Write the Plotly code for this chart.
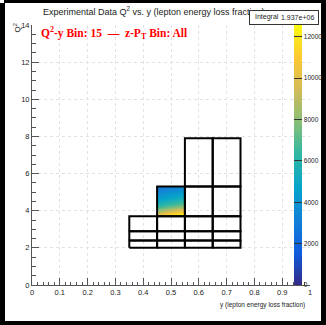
import plotly.graph_objects as go

# ---------------- data ----------------
# Q2-y bin grid (bin outlines)
q2_row_edges = [[2.0, 2.4], [2.4, 2.9], [2.9, 3.7], [3.7, 5.3], [5.3, 7.9]]
y_row_edges = [
    [0.35, 0.45, 0.55, 0.65, 0.75],
    [0.35, 0.45, 0.55, 0.65, 0.75],
    [0.35, 0.45, 0.55, 0.65, 0.75],
    [0.45, 0.55, 0.65, 0.75],
    [0.55, 0.65, 0.75],
]

hist_y_edges = [0.45, 0.47, 0.49, 0.51, 0.53, 0.55]
hist_q2_edges = [3.7, 3.9, 4.1, 4.3, 4.5, 4.7, 4.9, 5.1, 5.3]
hist_counts = [
    [10500, 11200, 11800, 12300, 12500],
    [8200, 8800, 9300, 9800, 10200],
    [6800, 7200, 7600, 8000, 8300],
    [5700, 6000, 6300, 6600, 6900],
    [4800, 5100, 5300, 5600, 5800],
    [4100, 4300, 4500, 4700, 4900],
    [3500, 3700, 3900, 4000, 4200],
    [3000, 3200, 3300, 3500, 3600],
]
z_max = 12570
cbar_ticks = [0, 2000, 4000, 6000, 8000, 10000, 12000]
x_ticks = [0, 0.1, 0.2, 0.3, 0.4, 0.5, 0.6, 0.7, 0.8, 0.9, 1]
y_ticks = [0, 2, 4, 6, 8, 10, 12, 14]
integral_text = "1.937e+06"

# ---------------- layout geometry ----------------
W, H = 326, 325
L, R, T, B = 32, 16, 25, 40
PW, PH = W - L - R, H - T - B


def px(xp):
    return (xp - L) / PW


def py(yp):
    return (H - B - yp) / PH


bird = [
    [0.000, "rgb(53,42,135)"],
    [0.125, "rgb(15,92,221)"],
    [0.250, "rgb(20,129,214)"],
    [0.375, "rgb(6,164,202)"],
    [0.500, "rgb(46,183,164)"],
    [0.625, "rgb(135,191,119)"],
    [0.750, "rgb(209,187,89)"],
    [0.875, "rgb(254,200,50)"],
    [1.000, "rgb(249,251,14)"],
]

sans = "Liberation Sans, Arial, sans-serif"

fig = go.Figure()

fig.add_trace(go.Heatmap(
    x=hist_y_edges, y=hist_q2_edges, z=hist_counts,
    zmin=0, zmax=z_max, colorscale=bird, zsmooth="best",
    colorbar=dict(
        x=px(294), xanchor="left", y=0, yanchor="bottom",
        len=1, lenmode="fraction", thickness=8, thicknessmode="pixels",
        outlinewidth=0, ticks="inside", ticklen=8, tickcolor="#333",
        tickvals=cbar_ticks, ticktext=[str(v) for v in cbar_ticks],
        tickfont=dict(family=sans, size=6.5, color="#222"),
        xpad=0, ypad=0,
    ),
    hoverinfo="skip",
))

# bin outlines
for (q_lo, q_hi), ys in zip(q2_row_edges, y_row_edges):
    for i in range(len(ys) - 1):
        fig.add_trace(go.Scatter(
            x=[ys[i], ys[i + 1], ys[i + 1], ys[i], ys[i]],
            y=[q_lo, q_lo, q_hi, q_hi, q_lo],
            mode="lines", line=dict(color="black", width=2),
            showlegend=False, hoverinfo="skip",
        ))

axis_common = dict(
    showline=True, linecolor="#555", linewidth=1, mirror=False,
    ticks="inside", tickcolor="#555", showgrid=True,
    gridcolor="#e2e2e2", griddash="dot", gridwidth=1, zeroline=False,
    tickfont=dict(family=sans, size=7.5, color="#222"),
)

fig.update_layout(
    width=W, height=H,
    margin=dict(l=L, r=R, t=T, b=B, pad=0, autoexpand=False),
    paper_bgcolor="white", plot_bgcolor="white",
    showlegend=False,
    xaxis=dict(range=[0, 1], tickvals=x_ticks, ticklen=7,
               minor=dict(ticks="inside", dtick=0.02, ticklen=3.5, tickcolor="#555", showgrid=False),
               **axis_common),
    yaxis=dict(range=[0, 14], tickvals=y_ticks, ticklen=7,
               minor=dict(ticks="inside", dtick=0.5, ticklen=3.5, tickcolor="#555", showgrid=False),
               **axis_common),
)

ann = []
# title
ann.append(dict(
    xref="paper", yref="paper", x=px(41), y=py(11), xanchor="left", yanchor="middle",
    text="Experimental Data Q<sup>2</sup> vs. y (lepton energy loss fraction)",
    showarrow=False, font=dict(family=sans, size=9, color="#222"),
))
# stat box frame (white, covers the title end)
ann.append(dict(
    xref="paper", yref="paper", x=px(249), y=py(10), xanchor="left", yanchor="top",
    text=" ", width=68, height=13,
    bgcolor="white", bordercolor="#333", borderwidth=1, borderpad=0,
    showarrow=False, font=dict(family=sans, size=7, color="#222"),
))
ann.append(dict(
    xref="paper", yref="paper", x=px(253), y=py(17), xanchor="left", yanchor="middle",
    text="Integral", showarrow=False, font=dict(family=sans, size=7, color="#222"),
))
ann.append(dict(
    xref="paper", yref="paper", x=px(316), y=py(17), xanchor="right", yanchor="middle",
    text=integral_text, showarrow=False, font=dict(family=sans, size=7, color="#222"),
))
# red label
ann.append(dict(
    xref="paper", yref="paper", x=px(39), y=py(33), xanchor="left", yanchor="middle",
    text="<b>Q<sup>2</sup>-y Bin: 15  \u2014  z-P<sub>T</sub> Bin: All</b>",
    showarrow=False, font=dict(family="Liberation Serif, Times New Roman, serif", size=11.5, color="#ff0000"),
))
# y axis title
ann.append(dict(
    xref="paper", yref="paper", x=px(16), y=py(22), xanchor="center", yanchor="top",
    text="Q<sup>2</sup>", textangle=-90,
    showarrow=False, font=dict(family=sans, size=8, color="#222"),
))
# x axis title
ann.append(dict(
    xref="paper", yref="paper", x=px(307), y=py(305), xanchor="right", yanchor="middle",
    text="y (lepton energy loss fraction)",
    showarrow=False, font=dict(family=sans, size=6.5, color="#222"),
))
fig.update_layout(annotations=ann)

# outer black canvas border
shapes = [
    dict(x0=px(4), x1=px(323), y0=py(0), y1=py(3)),
    dict(x0=px(0), x1=px(5), y0=py(3), y1=py(325)),
    dict(x0=px(0), x1=px(326), y0=py(321), y1=py(325)),
    dict(x0=px(321), x1=px(326), y0=py(0), y1=py(325)),
]
for s in shapes:
    s.update(type="rect", xref="paper", yref="paper", fillcolor="black",
             line=dict(width=0), layer="above")
fig.update_layout(shapes=shapes)

fig.write_html("out.html")
